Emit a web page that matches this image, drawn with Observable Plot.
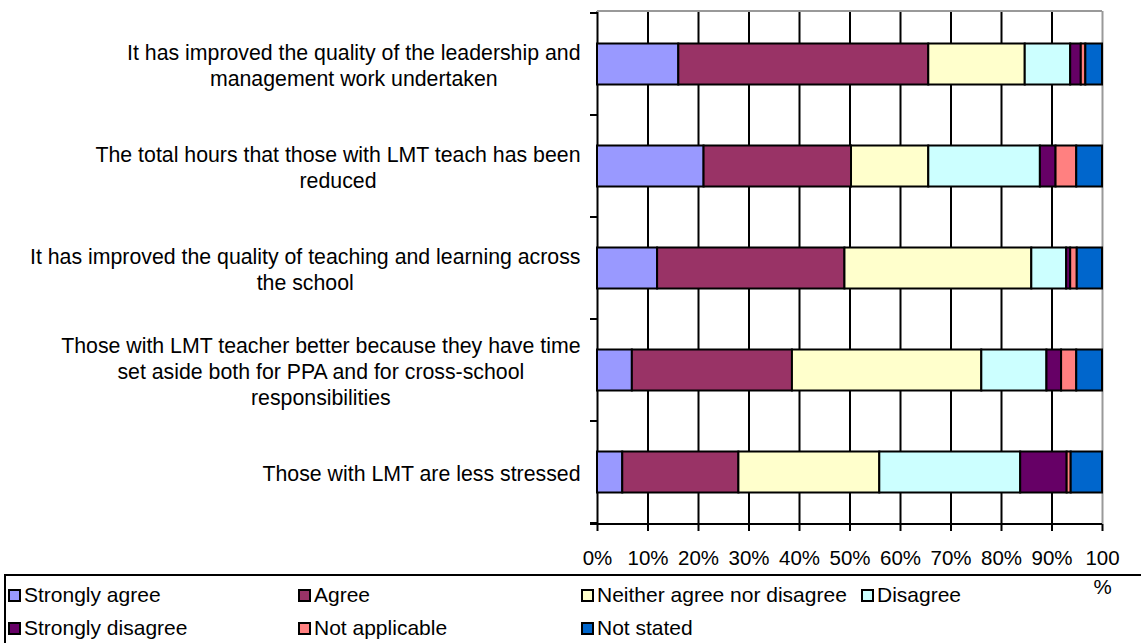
<!DOCTYPE html>
<html><head><meta charset="utf-8">
<script src="https://cdn.jsdelivr.net/npm/d3@7"></script>
<script src="https://cdn.jsdelivr.net/npm/@observablehq/plot@0.6"></script>
<style>
body{margin:0;background:#fff;font-family:"Liberation Sans",Arial,sans-serif;}
#wrap{position:relative;width:1141px;height:643px;overflow:hidden;background:#fff;}
#chart svg{overflow:visible;}
#legend{position:absolute;left:4px;top:574px;width:1140px;height:72px;border-top:2px solid #000;border-left:2px solid #000;box-sizing:border-box;}
.item{position:absolute;display:flex;align-items:center;white-space:nowrap;height:24px;}
.sw{width:9px;height:9px;border:2px solid #000;margin-right:3px;flex:none;}
.lbl{font-size:21px;display:inline-block;color:#000;}
</style></head><body>
<div id="wrap"><div id="chart"></div><div id="legend"></div></div>
<script>
const statements = [
  "It has improved the quality of the leadership and\nmanagement work undertaken",
  "The total hours that those with LMT teach has been\nreduced",
  "It has improved the quality of teaching and learning across\nthe school",
  "Those with LMT teacher better because they have time\nset aside both for PPA and for cross-school\nresponsibilities",
  "Those with LMT are less stressed"
];
const responses = ["Strongly agree","Agree","Neither agree nor disagree","Disagree","Strongly disagree","Not applicable","Not stated"];
const colors = ["#9999FF","#993366","#FFFFCC","#CCFFFF","#660066","#FF8080","#0066CC"];
const stronglyAgree    = [16.1, 21.1, 11.9,  6.9,  5.0];
const agree            = [49.5, 29.2, 37.1, 31.7, 23.0];
const neither          = [19.1, 15.3, 37.0, 37.5, 27.9];
const disagree         = [ 9.0, 22.1,  6.9, 12.9, 27.9];
const stronglyDisagree = [ 2.1,  3.1,  0.8,  2.9,  9.2];
const notApplicable    = [ 0.9,  4.1,  1.3,  3.0,  0.8];
const notStated        = [ 3.3,  5.1,  5.0,  5.1,  6.2];
const xTicks = [0,10,20,30,40,50,60,70,80,90,100];
const gridTicks = [10,20,30,40,50,60,70,80,90];
const legendRows = [
  ["Strongly agree","Agree","Neither agree nor disagree","Disagree"],
  ["Strongly disagree","Not applicable","Not stated"]
];

const series = [stronglyAgree, agree, neither, disagree, stronglyDisagree, notApplicable, notStated];
const rows = [];
statements.forEach((s, i) => responses.forEach((r, j) => rows.push({statement: s, response: r, value: series[j][i]})));

const W = 1141, H = 572;
const frameBits = (index, scales, values, dims) => {
  const g = d3.create("svg:g");
  const y = scales.y, bw = y.bandwidth();
  const x0 = dims.marginLeft, x1 = dims.width - dims.marginRight;
  const top = dims.marginTop, bottom = dims.height - dims.marginBottom;
  const edges = statements.map(s => y(s)).concat([y(statements[statements.length-1]) + bw]);
  g.append("line").attr("x1", x0).attr("x2", x1).attr("y1", top).attr("y2", top)
    .attr("stroke", "#999").attr("stroke-width", 2);
  g.selectAll("line.t").data(edges).join("line")
    .attr("x1", x0 - 7).attr("x2", x0).attr("y1", d => d).attr("y2", d => d)
    .attr("stroke", "#000").attr("stroke-width", 2);
  g.append("line").attr("x1", x0 - 7).attr("x2", x1).attr("y1", bottom).attr("y2", bottom)
    .attr("stroke", "#000").attr("stroke-width", 2);
  return g.node();
};

const plot = Plot.plot({
  width: W, height: H,
  marginTop: 11, marginBottom: 48, marginLeft: 597, marginRight: 39,
  style: {fontFamily: '"Liberation Sans", Arial, sans-serif', background: "transparent", color: "#000"},
  x: {domain: [0, 100]},
  y: {domain: statements, padding: 0},
  color: {domain: responses, range: colors},
  marks: [
    Plot.gridX({ticks: gridTicks, stroke: "#000", strokeOpacity: 1, strokeWidth: 2}),
    Plot.ruleX([100], {stroke: "#999", strokeWidth: 2}),
    Plot.ruleX([0], {stroke: "#000", strokeWidth: 2}),
    Plot.barX(rows, Plot.stackX({x: "value", y: "statement", fill: "response", order: responses,
      stroke: "#000", strokeWidth: 2, insetTop: 30.5, insetBottom: 30.5})),
    frameBits,
    Plot.axisX({ticks: xTicks, tickFormat: d => d === 100 ? "100\n%" : d + "%", tickSize: 7, tickPadding: 14,
      fontSize: 20.5, lineHeight: 1.37, stroke: "#000", strokeWidth: 2, label: null}),
    Plot.axisY({tickSize: 0, tickPadding: 17, fontSize: 21.3, lineHeight: 1.22, label: null, textAnchor: "end", lineAnchor: "middle"})
  ]
});
document.getElementById("chart").appendChild(plot);

plot.querySelectorAll('[aria-label="y-axis tick label"] text').forEach(t => {
  const spans = Array.from(t.querySelectorAll("tspan"));
  if (!spans.length) return;
  const w = Math.max(...spans.map(s => s.getComputedTextLength()));
  t.setAttribute("text-anchor", "middle");
  spans.forEach(s => s.setAttribute("x", -w / 2));
});

const legend = document.getElementById("legend");
const colX = [2, 292, 575, 855];
const rowY = [7, 40];
legendRows.forEach((row, ri) => row.forEach((name, ci) => {
  const it = document.createElement("div");
  it.className = "item";
  it.style.left = colX[ci] + "px";
  it.style.top = rowY[ri] + "px";
  const sw = document.createElement("span");
  sw.className = "sw";
  sw.style.background = colors[responses.indexOf(name)];
  const lb = document.createElement("span");
  lb.className = "lbl";
  lb.textContent = name;
  it.appendChild(sw); it.appendChild(lb);
  legend.appendChild(it);
}));
</script>
</body></html>
